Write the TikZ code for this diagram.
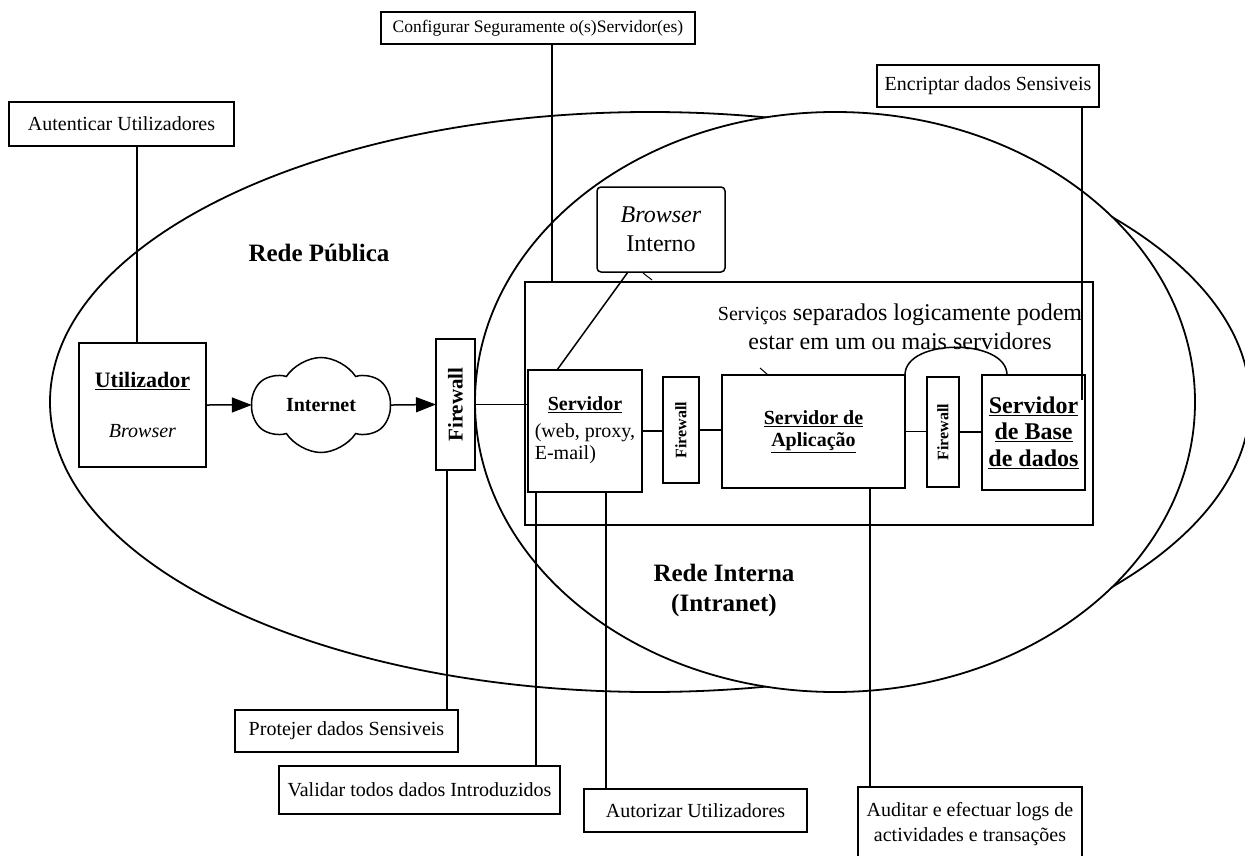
\documentclass[tikz,border=0pt]{standalone}
\usepackage{fontspec}
\setmainfont{Liberation Serif}
\usetikzlibrary{shapes.symbols,arrows.meta,calc}
\newcommand\fsz[2]{\fontsize{#1}{#2}\selectfont}
\begin{document}
\begin{tikzpicture}[x=1pt,y=-1pt,
  every node/.style={inner sep=0pt,outer sep=0pt},
  zone/.style={line width=1.8pt},
  link/.style={line width=1.5pt},
  box/.style={draw,line width=1.5pt,align=center},
  note/.style={box,font=\fsz{20}{25}},
  arr/.style={link,-{Triangle[length=20pt,width=15pt]}},
  area/.style={font=\bfseries\fsz{25}{30},align=center}]

\useasboundingbox (0,0) rectangle (1245,856);
\clip (0,0) rectangle (1245,856);

% public network, with the intranet drawn over it
\draw[zone] (650,402) ellipse [x radius=600pt,y radius=290pt];
\draw[zone,fill=white] (835,402) ellipse [x radius=360pt,y radius=290pt];

\node[area] (rp) at (319,253) {Rede Pública};
\node[area] (ri) at (724,590) {Rede Interna\\(Intranet)};

% frame around the server chain
\node[box,minimum width=568pt,minimum height=243pt] (cont) at (809,403.5) {};
\node[font=\fsz{24}{29},align=center] (sep) at (900,327)
  {{\fsz{20}{29}Serviços} separados logicamente podem\\estar em um ou mais servidores};

% client side
\node[box,minimum width=127pt,minimum height=124pt,font=\fsz{20}{20}] (user) at (142.5,405)
  {{\bfseries\fsz{22}{20}\underline{Utilizador}}\\[30pt]\textit{Browser}};
\node[cloud,draw,line width=1.5pt,cloud puffs=6,cloud puff arc=115,aspect=1.45,
      minimum width=138pt,minimum height=95pt,font=\bfseries\fsz{20}{24}] (net) at (321,405) {Internet};
\node[box,minimum width=39pt,minimum height=131pt] (fw1) at (455.5,404.5)
  {\rotatebox{90}{\bfseries\fsz{21}{24}Firewall}};

% servers
\node[box,minimum width=114pt,minimum height=122pt,font=\fsz{20}{22}] (srv) at (585,431)
  {\begin{tabular}{@{}l@{}}\multicolumn{1}{@{}c@{}}{\bfseries\underline{Servidor}}\\[5pt](web, proxy,\\E-mail)\end{tabular}};
\node[box,minimum width=36pt,minimum height=106pt] (fw2) at (681,430)
  {\rotatebox{90}{\bfseries\fsz{16}{18}Firewall}};
\node[box,minimum width=183pt,minimum height=113pt,font=\bfseries\fsz{20}{22}] (app) at (813.5,431.5)
  {\underline{Servidor de}\\\underline{Aplicação}};
\node[box,minimum width=32pt,minimum height=110pt] (fw3) at (943,432)
  {\rotatebox{90}{\bfseries\fsz{16}{18}Firewall}};
\node[box,minimum width=103pt,minimum height=115pt,font=\bfseries\fsz{24}{26.5}] (db) at (1033.5,432.5)
  {\underline{Servidor}\\\underline{de Base}\\\underline{de dados}};
\node[box,rounded corners=4pt,minimum width=128pt,minimum height=85pt,font=\fsz{24}{29}] (bint) at (661,229.5)
  {\textit{Browser}\\Interno};

% security notes
\node[note,minimum width=314pt,minimum height=32pt,font=\fsz{17.5}{21}] (conf) at (538,28) {Configurar Seguramente o(s)Servidor(es)};
\node[note,minimum width=225pt,minimum height=44pt] (aut) at (121.5,124) {Autenticar Utilizadores};
\node[note,minimum width=222pt,minimum height=42pt] (enc) at (988,86) {Encriptar dados Sensiveis};
\node[note,minimum width=223pt,minimum height=42pt] (prot) at (346.5,731) {Protejer dados Sensiveis};
\node[note,minimum width=281pt,minimum height=48pt] (val) at (419.5,790) {Validar todos dados Introduzidos};
\node[note,minimum width=223pt,minimum height=43pt] (autz) at (695.5,810.5) {Autorizar Utilizadores};
\node[note,minimum width=224pt,minimum height=75pt] (aud) at (970,824.5) {Auditar e efectuar logs de\\actividades e transações};

% data path
\draw[arr] (user.east) -- (net.west);
\draw[arr] (net.east) -- (fw1.west);
\draw[link] (fw1.east) -- (fw1.east -| srv.west);
\draw[link] (srv.east) -- (srv.east -| fw2.west);
\draw[link] (fw2.east) -- (fw2.east -| app.west);
\draw[link] (app.east) -- (app.east -| fw3.west);
\draw[link] (fw3.east) -- (fw3.east -| db.west);
\draw[link] (app.north east) .. controls +(0,-37) and +(0,-37) .. ($(db.north west)+(25,0)$);

% callout pointers
\draw[link] ($(bint.south west)+(31,0)$) -- ($(srv.north west)+(29,0)$);
\draw[line width=1pt] ($(bint.south west)+(46,1)$) -- ($(bint.south west)+(55,8)$);
\draw[line width=1pt] ($(app.north west)+(38,-7)$) -- ($(app.north west)+(46,0)$);

% leaders from the notes
\coordinate (lc) at ([xshift=14pt]conf.south);
\coordinate (la) at ([xshift=15.5pt]aut.south);
\coordinate (le) at ([xshift=94pt]enc.south);
\coordinate (lp) at ([xshift=-8.5pt]fw1.south);
\coordinate (lv) at ([xshift=-49pt]srv.south);
\coordinate (lz) at ([xshift=21pt]srv.south);
\coordinate (ld) at ([xshift=56.5pt]app.south);
\draw[link] (lc) -- (lc |- cont.north);
\draw[link] (la) -- (la |- user.north);
\draw[link] (le) -- ($(db.north east)+(-3,25)$);
\draw[link] (lp) -- (lp |- prot.north);
\draw[link] (lv) -- (lv |- val.north);
\draw[link] (lz) -- (lz |- autz.north);
\draw[link] (ld) -- (ld |- aud.north);
\end{tikzpicture}
\end{document}
